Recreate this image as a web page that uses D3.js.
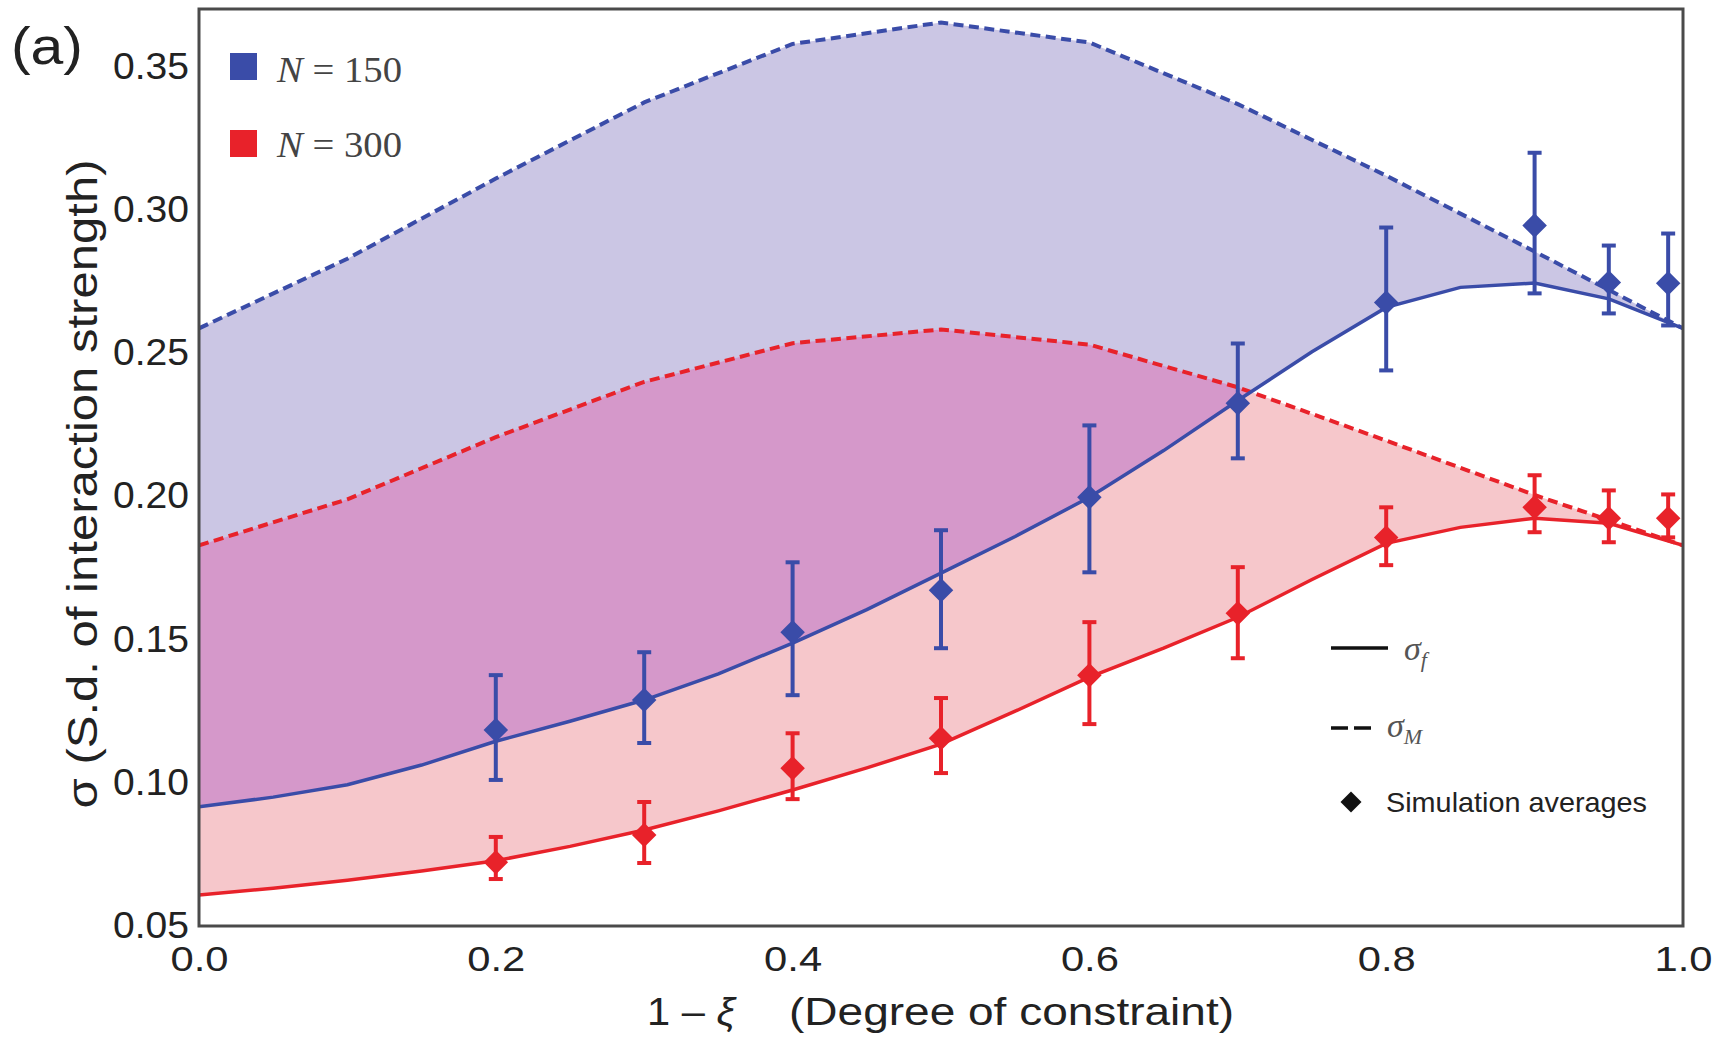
<!DOCTYPE html>
<html>
<head>
<meta charset="utf-8">
<script src="https://cdn.jsdelivr.net/npm/d3@7.9.0/dist/d3.min.js"></script>
<style>
  html, body { margin: 0; padding: 0; background: #fff; }
  svg { display: block; }
</style>
</head>
<body>
<svg id="chart" width="1725" height="1038"></svg>
<script>
// ---- data ----
const xTheory = [0, 0.05, 0.1, 0.15, 0.2, 0.25, 0.3, 0.35, 0.4, 0.45, 0.5,
                 0.55, 0.6, 0.65, 0.7, 0.75, 0.8, 0.85, 0.9, 0.95, 1.0];
// sigma_f (solid)
const sigmaF150 = [0.0916, 0.0950, 0.0993, 0.1062, 0.1145, 0.1215, 0.1289, 0.1380, 0.1488, 0.1605, 0.1732,
                   0.1860, 0.1997, 0.2160, 0.2335, 0.2505, 0.2660, 0.2730, 0.2745, 0.2690, 0.2587];
const sigmaF300 = [0.0608, 0.0632, 0.0660, 0.0692, 0.0728, 0.0778, 0.0835, 0.0902, 0.0975, 0.1052, 0.1135,
                   0.1250, 0.1369, 0.1470, 0.1578, 0.1710, 0.1836, 0.1892, 0.1924, 0.1906, 0.1829];

// sigma_M (dashed)
const xMay = [0, 0.1, 0.2, 0.3, 0.4, 0.5, 0.6, 0.7, 0.8, 0.9, 1.0];
const sigmaM150 = [0.2587, 0.2830, 0.3110, 0.3376, 0.3580, 0.3655, 0.3585, 0.3370, 0.3120, 0.2855, 0.2587];
const sigmaM300 = [0.1829, 0.1990, 0.2207, 0.2400, 0.2535, 0.2583, 0.2530, 0.2381, 0.2195, 0.2005, 0.1829];

// simulation averages with error bars
const xSim = [0.2, 0.3, 0.4, 0.5, 0.6, 0.7, 0.8, 0.9, 0.95, 0.99];
const sim150 = [0.1184, 0.1289, 0.1526, 0.1672, 0.1997, 0.2325, 0.2677, 0.2946, 0.2747, 0.2744];
const sim150Hi = [0.1376, 0.1456, 0.1770, 0.1882, 0.2248, 0.2534, 0.2939, 0.3200, 0.2876, 0.2918];
const sim150Lo = [0.1010, 0.1139, 0.1306, 0.1470, 0.1735, 0.2133, 0.2440, 0.2709, 0.2639, 0.2597];
const sim300 = [0.0723, 0.0818, 0.1051, 0.1156, 0.1376, 0.1592, 0.1857, 0.1962, 0.1924, 0.1924];
const sim300Hi = [0.0811, 0.0933, 0.1173, 0.1296, 0.1561, 0.1753, 0.1962, 0.2074, 0.2021, 0.2007];
const sim300Lo = [0.0664, 0.0720, 0.0943, 0.1034, 0.1205, 0.1435, 0.1760, 0.1875, 0.1840, 0.1857];

const xTicks = [0, 0.2, 0.4, 0.6, 0.8, 1.0];
const yTicks = [0.05, 0.10, 0.15, 0.20, 0.25, 0.30, 0.35];
const seriesLabels = ["150", "300"];

// ---- layout ----
const plotL = 199, plotR = 1683, plotT = 9, plotB = 926;
const blue = "#3a4ca8", red = "#e8222a";
const blueFill = "#cbc6e4", redFill = "#f6c7cb", mixFill = "#d598ca";

const svg = d3.select("#chart");
const x = d3.scaleLinear().domain([0, 1]).range([plotL, plotR]);
const y = d3.scaleLinear().domain([0.05, 0.3702]).range([plotB, plotT]);

const pts = (xs, ys) => xs.map((v, i) => [v, ys[i]]);
const line = d3.line().x(d => x(d[0])).y(d => y(d[1]));

// band polygon: solid forward, dashed backward
const band = (solid, dashed) => line(solid.concat(dashed.slice().reverse())) + "Z";

const f150 = pts(xTheory, sigmaF150), f300 = pts(xTheory, sigmaF300);
const m150 = pts(xMay, sigmaM150), m300 = pts(xMay, sigmaM300);

const defs = svg.append("defs");
defs.append("clipPath").attr("id", "redBand")
  .append("path").attr("d", band(f300, m300));
defs.append("clipPath").attr("id", "plotArea")
  .append("rect").attr("x", plotL).attr("y", plotT).attr("width", plotR - plotL).attr("height", plotB - plotT);

const plot = svg.append("g").attr("clip-path", "url(#plotArea)");

plot.append("path").attr("d", band(f300, m300)).attr("fill", redFill);
plot.append("path").attr("d", band(f150, m150)).attr("fill", blueFill);
plot.append("g").attr("clip-path", "url(#redBand)")
  .append("path").attr("d", band(f150, m150)).attr("fill", mixFill);

// theory lines
[[m150, blue], [m300, red]].forEach(([d, c]) => {
  plot.append("path").attr("d", line(d)).attr("fill", "none")
    .attr("stroke", c).attr("stroke-width", 4).attr("stroke-dasharray", "10,5.5");
});
[[f150, blue], [f300, red]].forEach(([d, c]) => {
  plot.append("path").attr("d", line(d)).attr("fill", "none")
    .attr("stroke", c).attr("stroke-width", 3.5);
});

// error bars + diamonds
const diamond = d3.symbol().type(d3.symbolSquare).size(300);
function drawSim(mean, hi, lo, c) {
  const g = plot.append("g");
  xSim.forEach((xv, i) => {
    const cx = x(xv);
    g.append("line").attr("x1", cx).attr("x2", cx).attr("y1", y(lo[i])).attr("y2", y(hi[i]))
      .attr("stroke", c).attr("stroke-width", 4);
    [hi[i], lo[i]].forEach(v => {
      g.append("line").attr("x1", cx - 7).attr("x2", cx + 7).attr("y1", y(v)).attr("y2", y(v))
        .attr("stroke", c).attr("stroke-width", 4);
    });
    g.append("path").attr("d", diamond())
      .attr("transform", `translate(${cx},${y(mean[i])}) rotate(45)`)
      .attr("fill", c);
  });
}
drawSim(sim150, sim150Hi, sim150Lo, blue);
drawSim(sim300, sim300Hi, sim300Lo, red);

// frame
svg.append("rect").attr("x", plotL).attr("y", plotT).attr("width", plotR - plotL).attr("height", plotB - plotT)
  .attr("fill", "none").attr("stroke", "#4a4a4a").attr("stroke-width", 3);

// axes
const sans = "'Liberation Sans', Arial, sans-serif";
const xAxis = svg.append("g").attr("transform", `translate(0,${plotB})`)
  .call(d3.axisBottom(x).tickValues(xTicks).tickSize(0).tickPadding(20).tickFormat(d3.format(".1f")));
const yAxis = svg.append("g").attr("transform", `translate(${plotL},0)`)
  .call(d3.axisLeft(y).tickValues(yTicks).tickSize(0).tickPadding(10).tickFormat(d3.format(".2f")));
[xAxis, yAxis].forEach(a => a.select(".domain").remove());
xAxis.selectAll("text").attr("font-family", sans).attr("font-size", 35).attr("fill", "#222")
  .attr("textLength", 58).attr("lengthAdjust", "spacingAndGlyphs");
yAxis.selectAll("text").attr("font-family", sans).attr("font-size", 36).attr("fill", "#222")
  .attr("textLength", 76).attr("lengthAdjust", "spacingAndGlyphs");

// axis titles
const xt = svg.append("text").attr("x", 647).attr("y", 1025)
  .attr("font-family", sans).attr("font-size", 38).attr("fill", "#222")
  .attr("textLength", 88).attr("lengthAdjust", "spacingAndGlyphs");
xt.append("tspan").text("1 – ");
xt.append("tspan").attr("font-style", "italic").text("ξ");
svg.append("text").attr("x", 789).attr("y", 1025)
  .attr("font-family", sans).attr("font-size", 38).attr("fill", "#222")
  .attr("textLength", 445).attr("lengthAdjust", "spacingAndGlyphs")
  .text("(Degree of constraint)");

svg.append("text").attr("transform", "translate(97,484) rotate(-90)")
  .attr("text-anchor", "middle")
  .attr("font-family", sans).attr("font-size", 43).attr("fill", "#222")
  .attr("textLength", 649).attr("lengthAdjust", "spacingAndGlyphs")
  .text("σ (S.d. of interaction strength)");

svg.append("text").attr("x", 11).attr("y", 64)
  .attr("font-family", sans).attr("font-size", 52).attr("fill", "#222")
  .attr("textLength", 72).attr("lengthAdjust", "spacingAndGlyphs")
  .text("(a)");

// legend: N
const serif = "'Liberation Serif', 'Times New Roman', serif";
[[blue, 53, 82], [red, 130, 157]].forEach(([c, sy, by], i) => {
  svg.append("rect").attr("x", 230).attr("y", sy).attr("width", 27).attr("height", 27).attr("fill", c);
  const t = svg.append("text").attr("x", 277).attr("y", by)
    .attr("font-family", serif).attr("font-size", 36).attr("fill", "#444")
    .attr("textLength", 125).attr("lengthAdjust", "spacingAndGlyphs");
  t.append("tspan").attr("font-style", "italic").text("N");
  t.append("tspan").text(" = " + seriesLabels[i]);
});

// legend: line styles + simulation
svg.append("line").attr("x1", 1331).attr("x2", 1388).attr("y1", 648).attr("y2", 648)
  .attr("stroke", "#111").attr("stroke-width", 3.5);
const sf = svg.append("text").attr("x", 1404).attr("y", 660)
  .attr("font-family", serif).attr("font-size", 34).attr("fill", "#555").attr("font-style", "italic");
sf.append("tspan").text("σ");
sf.append("tspan").attr("font-size", 22).attr("dy", 7).text("f");

svg.append("line").attr("x1", 1331).attr("x2", 1373).attr("y1", 728).attr("y2", 728)
  .attr("stroke", "#111").attr("stroke-width", 3.5).attr("stroke-dasharray", "17,6");
const sm = svg.append("text").attr("x", 1387).attr("y", 737)
  .attr("font-family", serif).attr("font-size", 34).attr("fill", "#555").attr("font-style", "italic");
sm.append("tspan").text("σ");
sm.append("tspan").attr("font-size", 22).attr("dy", 7).text("M");

svg.append("path").attr("d", d3.symbol().type(d3.symbolSquare).size(220)())
  .attr("transform", "translate(1351,802) rotate(45)").attr("fill", "#111");
svg.append("text").attr("x", 1386).attr("y", 812)
  .attr("font-family", sans).attr("font-size", 28).attr("fill", "#222")
  .attr("textLength", 261).attr("lengthAdjust", "spacingAndGlyphs")
  .text("Simulation averages");
</script>
</body>
</html>
